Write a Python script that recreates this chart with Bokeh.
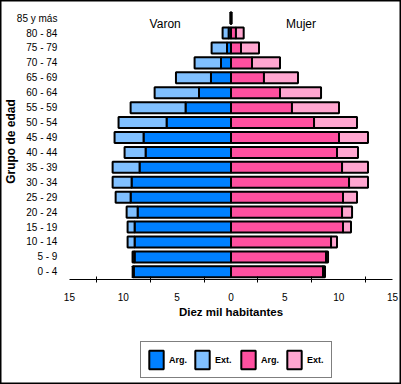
import numpy as np
from bokeh.plotting import figure
from bokeh.models import (Range1d, FixedTicker, Legend, LegendItem,
                          Label, ColumnDataSource)
from bokeh.core.properties import value
from bokeh.embed import file_html
from bokeh.resources import INLINE

# ---- data (diez mil habitantes) ----
ages = ["0 - 4", "5 - 9", "10 - 14", "15 - 19", "20 - 24", "25 - 29", "30 - 34",
        "35 - 39", "40 - 44", "45 - 49", "50 - 54", "55 - 59", "60 - 64",
        "65 - 69", "70 - 74", "75 - 79", "80 - 84", "85 y más"]
varon_arg = [9.03, 8.95, 8.95, 8.95, 8.67, 9.32, 9.23, 8.49, 7.93, 8.12,
             5.98, 4.22, 2.97, 1.86, 0.93, 0.37, 0.22, 0.03]
varon_ext = [0.10, 0.19, 0.65, 0.65, 1.02, 1.39, 1.76, 2.50, 1.95, 2.69,
             4.46, 5.10, 4.12, 3.25, 2.45, 1.43, 0.56, 0.02]
mujer_arg = [8.54, 8.82, 9.29, 10.40, 10.31, 10.40, 10.96, 10.31, 9.84, 10.03,
             7.71, 5.66, 4.55, 3.06, 1.95, 0.93, 0.46, 0.03]
mujer_ext = [0.19, 0.19, 0.55, 0.74, 0.93, 1.30, 1.76, 2.41, 1.95, 2.69,
             3.99, 4.37, 3.81, 3.16, 2.60, 1.67, 0.72, 0.02]
x_ticks = [-15, -10, -5, 0, 5, 10, 15]
x_tick_labels = ["15", "10", "5", "0", "5", "10", "15"]
series_labels = ["Arg.", "Ext.", "Arg.", "Ext."]
side_titles = ["Varon", "Mujer"]

colors = ["#0080FF", "#80C0FF", "#FF50A0", "#FFA6D0"]
FONT = "Liberation Sans"

va = np.array(varon_arg)
ve = np.array(varon_ext)
ma = np.array(mujer_arg)
me = np.array(mujer_ext)
idx = np.arange(len(ages))

src = ColumnDataSource(dict(
    pos=idx,
    zero=np.zeros(len(ages)),
    m_arg=-va,
    m_tot=-(va + ve),
    f_arg=ma,
    f_tot=ma + me,
))

AXIS_Y = -0.516          # value axis just under "0 - 4"
AXIS_X = -15.28          # category labels to the left of this
p = figure(width=401, height=384,
           y_range=Range1d(-7.55, 18.18),
           x_range=Range1d(-21.40, 15.83),
           output_backend="svg", toolbar_location=None,
           min_border_left=0, min_border_right=0,
           min_border_top=0, min_border_bottom=0)

H = 0.74
bar_kw = dict(height=H, line_color="black", line_width=2, source=src)
r1 = p.hbar(y="pos", left="m_arg", right="zero", fill_color=colors[0], **bar_kw)
r2 = p.hbar(y="pos", left="m_tot", right="m_arg", fill_color=colors[1], **bar_kw)
r3 = p.hbar(y="pos", left="zero", right="f_arg", fill_color=colors[2], **bar_kw)
r4 = p.hbar(y="pos", left="f_arg", right="f_tot", fill_color=colors[3], **bar_kw)

# side titles
for txt, xx in zip(side_titles, [-6.11, 6.50]):
    p.add_layout(Label(x=xx, y=16.58, text=txt, text_align="center",
                       text_baseline="middle", text_font=FONT,
                       text_font_size="12px", text_color="black"))

# vertical axis title
p.add_layout(Label(x=-20.47, y=8.73, text="Grupo de edad", angle=np.pi / 2,
                   text_align="center", text_baseline="middle",
                   text_font=FONT, text_font_style="bold",
                   text_font_size="12px", text_color="black"))

# grid / outer border
p.xgrid.grid_line_color = None
p.ygrid.grid_line_color = None
p.outline_line_color = "black"
p.outline_line_width = 2

# x axis (fixed inside the frame, under the bars)
minor = [(a + b) / 2 for a, b in zip(x_ticks[:-1], x_ticks[1:])]
xa = p.xaxis[0]
xa.fixed_location = AXIS_Y
xa.bounds = (x_ticks[0], x_ticks[-1])
xa.ticker = FixedTicker(ticks=x_ticks, minor_ticks=minor)
xa.major_label_overrides = {t: l for t, l in zip(x_ticks, x_tick_labels)}
xa.major_tick_in = 0
xa.major_tick_out = 0
xa.minor_tick_in = 3
xa.minor_tick_out = 3
xa.minor_tick_line_color = "black"
xa.axis_line_color = "black"
xa.major_label_standoff = 10
xa.major_label_text_font = FONT
xa.major_label_text_font_size = "10px"
xa.major_label_text_color = "black"
xa.axis_label = "Diez mil habitantes"
xa.axis_label_text_font = FONT
xa.axis_label_text_font_style = "bold"
xa.axis_label_text_font_size = "11.5px"
xa.axis_label_text_color = "black"
xa.axis_label_standoff = 2

# y axis (age groups)
ya = p.yaxis[0]
ya.fixed_location = AXIS_X
ya.ticker = FixedTicker(ticks=list(idx))
ya.major_label_overrides = {int(i): a for i, a in zip(idx, ages)}
ya.axis_line_color = None
ya.major_tick_line_color = None
ya.minor_tick_line_color = None
ya.major_label_standoff = 3
ya.major_label_text_font = FONT
ya.major_label_text_font_size = "10px"
ya.major_label_text_color = "black"

items = [LegendItem(label=value(lbl), renderers=[r])
         for lbl, r in zip(series_labels, [r1, r2, r3, r4])]
legend = Legend(items=items, orientation="horizontal", location=(140, 6),
                glyph_width=18, glyph_height=23, label_standoff=4, spacing=6,
                label_width=18, padding=6, margin=0, border_line_color="black",
                border_line_width=1, background_fill_color="white",
                background_fill_alpha=1,
                label_text_font=FONT, label_text_font_style="bold",
                label_text_font_size="9px", label_text_color="black")
p.add_layout(legend)

open("out.html", "w").write(file_html(p, INLINE))
